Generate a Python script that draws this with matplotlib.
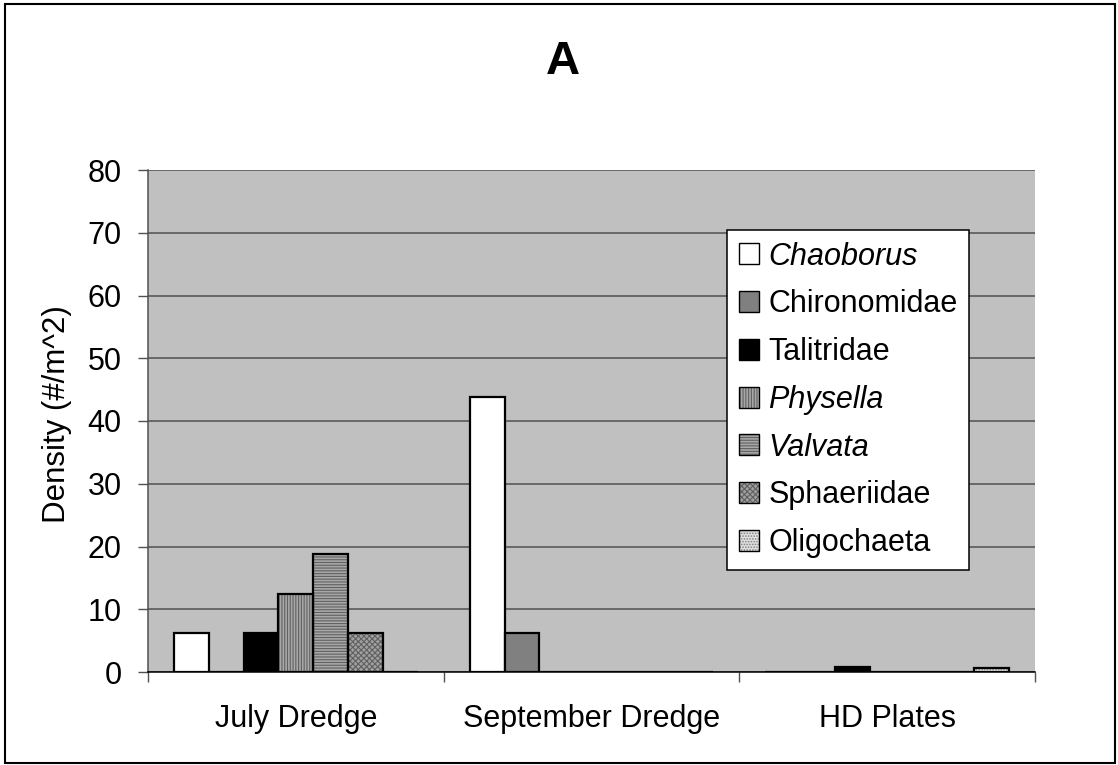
import matplotlib
matplotlib.use("Agg")
import matplotlib.pyplot as plt
import numpy as np
from matplotlib.patches import Patch, Rectangle

plt.rcParams['font.family'] = ['Liberation Sans', 'DejaVu Sans']
plt.rcParams['hatch.linewidth'] = 0.8

categories = ["July Dredge", "September Dredge", "HD Plates"]
series_names = ["Chaoborus", "Chironomidae", "Talitridae", "Physella",
                "Valvata", "Sphaeriidae", "Oligochaeta"]
italic_names = ["Chaoborus", "Physella", "Valvata"]
chaoborus = [6.25, 43.75, 0.0]
chironomidae = [0.0, 6.25, 0.0]
talitridae = [6.25, 0.0, 0.8]
physella = [12.5, 0.0, 0.0]
valvata = [18.75, 0.0, 0.0]
sphaeriidae = [6.25, 0.0, 0.0]
oligochaeta = [0.0, 0.0, 0.6]
values = [chaoborus, chironomidae, talitridae, physella, valvata, sphaeriidae, oligochaeta]
yticks = [0, 10, 20, 30, 40, 50, 60, 70, 80]

# styles: (facecolor, hatch, hatchcolor)
styles = [
    ("#ffffff", None, None),
    ("#808080", None, None),
    ("#000000", None, None),
    ("#a8a8a8", "||||||", "#606060"),
    ("#a8a8a8", "------", "#606060"),
    ("#a0a0a0", "xxxxxx", "#606060"),
    ("#e0e0e0", "......", "#808080"),
]

W, H = 1118, 765
fig = plt.figure(figsize=(W / 100, H / 100), dpi=100)
ax = fig.add_axes([148 / W, 1 - 672 / H, (1035 - 148) / W, (672 - 170) / H])
ax.set_facecolor("#c0c0c0")

x = np.arange(len(categories))
n = len(series_names)
bw = 1 / (n + 1.5)
handles = []
for i, (name, vals) in enumerate(zip(series_names, values)):
    fc, hatch, hc = styles[i]
    pos = x + (i - (n - 1) / 2) * bw
    if hatch:
        ax.bar(pos, vals, width=bw, color=fc, hatch=hatch, edgecolor=hc,
               linewidth=0, zorder=3)
        ax.bar(pos, vals, width=bw, facecolor="none", edgecolor="black",
               linewidth=1.6, zorder=4)
        h = (Patch(facecolor=fc, hatch=hatch, edgecolor=hc, linewidth=0),
             Patch(facecolor="none", edgecolor="black", linewidth=1.0))
    else:
        ax.bar(pos, vals, width=bw, color=fc, edgecolor="black",
               linewidth=1.6, zorder=3)
        h = Patch(facecolor=fc, edgecolor="black", linewidth=1.0)
    handles.append(h)

ax.set_xlim(-0.5, len(categories) - 0.5)
ax.set_ylim(0, 80)
ax.set_yticks(yticks)
ax.yaxis.grid(True, color="#505050", linewidth=1.1, zorder=1)
ax.set_axisbelow(True)
ax.set_xticks(x)
ax.set_xticklabels(categories)
ax.set_xticks(np.arange(-0.5, len(categories), 1.0), minor=True)
ax.tick_params(axis="x", which="major", length=0, pad=23, labelsize=22)
ax.tick_params(axis="x", which="minor", length=7, width=1, color="#505050", direction="out")
ax.tick_params(axis="y", length=7, width=1, color="#505050", direction="out", pad=12, labelsize=22)
for s in ["top", "right"]:
    ax.spines[s].set_visible(False)
ax.spines["left"].set_color("#505050")
ax.spines["left"].set_linewidth(1.1)
ax.spines["bottom"].set_color("black")
ax.spines["bottom"].set_linewidth(1.1)
ax.spines["bottom"].set_zorder(5)

ax.set_ylabel("Density (#/m^2)", fontsize=22.5)
ax.yaxis.set_label_coords(-76 / (1035 - 148), (672 - 414) / (672 - 170))

leg = ax.legend(handles, series_names, loc="upper left",
                bbox_to_anchor=(727 / W, 1 - 230 / H), bbox_transform=fig.transFigure,
                borderaxespad=0, fontsize=22, frameon=True, fancybox=False,
                edgecolor="black", facecolor="white", framealpha=1,
                handlelength=0.68, handleheight=0.68, handletextpad=0.3,
                labelspacing=0.58, borderpad=0.38)
leg.get_frame().set_linewidth(1.1)
for t in leg.get_texts():
    if t.get_text() in italic_names:
        t.set_fontstyle("italic")

fig.text(563 / W, 1 - 62 / H, "A", fontsize=34, fontweight="bold", ha="center", va="center")

fig.patches.append(Rectangle((5 / W, 2 / H), 1110 / W, 759 / H, transform=fig.transFigure,
                             facecolor="none", edgecolor="black", linewidth=1.5))

fig.savefig("out.png", dpi=100)
